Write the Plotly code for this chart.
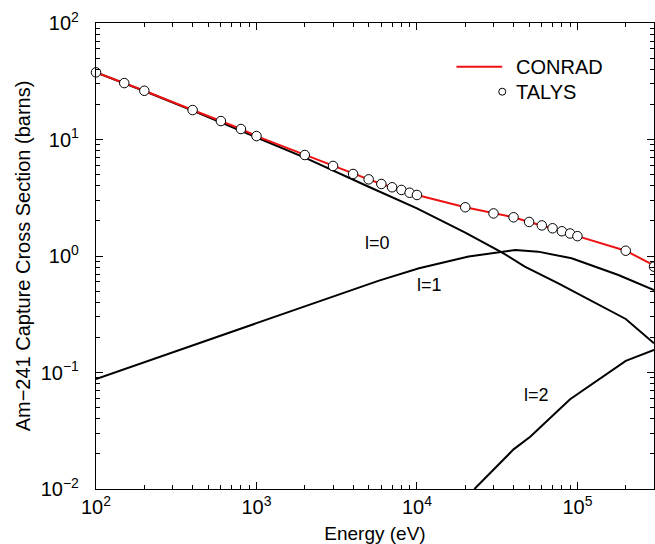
import numpy as np
import plotly.graph_objects as go

# ---- data ----
talys_E = [100, 150, 200, 400, 600, 800, 1000, 2000, 3000, 4000, 5000, 6000, 7000, 8000, 9000,
           10000, 20000, 30000, 40000, 50000, 60000, 70000, 80000, 90000, 100000, 200000, 300000]
talys_xs = [37.7, 30.5, 26.2, 17.9, 14.4, 12.3, 10.7, 7.36, 5.93, 5.06, 4.55, 4.15, 3.89, 3.69, 3.49,
            3.34, 2.62, 2.32, 2.15, 1.96, 1.83, 1.73, 1.63, 1.56, 1.48, 1.11, 0.81]

conrad_E = [100, 150, 200, 400, 600, 800, 1000, 2000, 3000, 4000, 5000, 6000, 7000, 8000, 9000,
            10000, 20000, 30000, 40000, 50000, 60000, 70000, 80000, 90000, 100000, 200000, 300000]
conrad_xs = [37.7, 30.5, 26.2, 17.9, 14.4, 12.3, 10.7, 7.36, 5.93, 5.06, 4.55, 4.15, 3.89, 3.69, 3.49,
             3.34, 2.62, 2.32, 2.15, 1.96, 1.83, 1.73, 1.63, 1.56, 1.48, 1.11, 0.83]

l0_E = [100, 200, 400, 1000, 2000, 5000, 10000, 20000, 34000, 47000, 76000, 200000, 300000]
l0_xs = [37.6, 26.1, 17.7, 10.4, 7.0, 3.93, 2.56, 1.59, 1.07, 0.81, 0.583, 0.288, 0.178]

l1_E = [100, 1000, 3000, 5800, 10300, 21000, 41000, 57000, 92000, 180000, 300000]
l1_xs = [0.088, 0.265, 0.45, 0.615, 0.784, 0.99, 1.125, 1.09, 0.955, 0.687, 0.51]

l2_E = [22800, 40000, 50800, 90000, 200000, 300000]
l2_xs = [0.010, 0.0219, 0.0281, 0.0589, 0.126, 0.156]

x_tick_vals = [1e2, 1e3, 1e4, 1e5]
x_tick_text = ["10<sup>2</sup>", "10<sup>3</sup>", "10<sup>4</sup>", "10<sup>5</sup>"]
y_tick_vals = [1e-2, 1e-1, 1e0, 1e1, 1e2]
y_tick_text = ["10<sup>\u22122</sup>", "10<sup>\u22121</sup>", "10<sup>0</sup>", "10<sup>1</sup>", "10<sup>2</sup>"]

FONT = "Liberation Sans, Arial, Helvetica, sans-serif"

fig = go.Figure()
for E, xs in [(l0_E, l0_xs), (l1_E, l1_xs), (l2_E, l2_xs)]:
    fig.add_trace(go.Scatter(x=E, y=xs, mode="lines",
                             line=dict(color="black", width=2), showlegend=False))
fig.add_trace(go.Scatter(x=conrad_E, y=conrad_xs, mode="lines", name="CONRAD",
                         line=dict(color="#ee1111", width=2), showlegend=False))
fig.add_trace(go.Scatter(x=talys_E, y=talys_xs, mode="markers", name="TALYS",
                         marker=dict(symbol="circle", size=9.5, color="white",
                                     line=dict(color="black", width=1)),
                         showlegend=False, cliponaxis=False))

def minor_vals(lo, hi):
    v = []
    for k in range(lo, hi + 1):
        for m in range(2, 10):
            v.append(m * 10.0 ** k)
    return v

axis_common = dict(type="log", showgrid=False, zeroline=False, showline=True,
                   linecolor="black", linewidth=1.3, mirror="ticks",
                   ticks="inside", ticklen=7, tickwidth=1, tickcolor="black",
                   tickfont=dict(family=FONT, size=20, color="black"))

fig.update_xaxes(**axis_common, range=[2, np.log10(3e5)],
                 tickmode="array", tickvals=x_tick_vals, ticktext=x_tick_text,
                 minor=dict(tickmode="array", tickvals=minor_vals(2, 5), ticks="inside",
                            ticklen=4, tickcolor="black", showgrid=False),
                 title=dict(text="Energy (eV)", font=dict(family=FONT, size=19, color="black"),
                            standoff=9))
fig.update_yaxes(**axis_common, range=[-2, 2],
                 tickmode="array", tickvals=y_tick_vals, ticktext=y_tick_text,
                 ticklabelstandoff=12,
                 minor=dict(tickmode="array", tickvals=minor_vals(-2, 1), ticks="inside",
                            ticklen=4, tickcolor="black", showgrid=False),
                 title=dict(text="Am\u2212241 Capture Cross Section (barns)",
                            font=dict(family=FONT, size=20, color="black"), standoff=4))

annots = [
    dict(x=np.log10(5650), y=0.112, text="l=0"),
    dict(x=np.log10(11900), y=-0.249, text="l=1"),
    dict(x=np.log10(55600), y=-1.193, text="l=2"),
]
for a in annots:
    fig.add_annotation(x=a["x"], y=a["y"], xref="x", yref="y", text=a["text"], showarrow=False,
                       font=dict(family=FONT, size=18, color="black"))

# legend (drawn manually to match the reference layout)
fig.add_shape(type="line", xref="paper", yref="paper", x0=0.646, x1=0.728, y0=0.906, y1=0.906,
              line=dict(color="#ee1111", width=2))
fig.add_shape(type="circle", xref="paper", yref="paper",
              x0=0.728 - 3.5 / 559, x1=0.728 + 3.5 / 559, y0=0.8526 - 3.5 / 466, y1=0.8526 + 3.5 / 466,
              line=dict(color="black", width=1), fillcolor="white")
fig.add_annotation(x=0.7496, y=0.906, xref="paper", yref="paper", text="CONRAD", showarrow=False,
                   xanchor="left", yanchor="middle", font=dict(family=FONT, size=20, color="black"))
fig.add_annotation(x=0.7496, y=0.8526, xref="paper", yref="paper", text="TALYS", showarrow=False,
                   xanchor="left", yanchor="middle", font=dict(family=FONT, size=20, color="black"))

fig.update_layout(width=655, height=544, margin=dict(l=96, r=1, t=23, b=55),
                  plot_bgcolor="white", paper_bgcolor="white", showlegend=False)

fig.write_html("out.html")
